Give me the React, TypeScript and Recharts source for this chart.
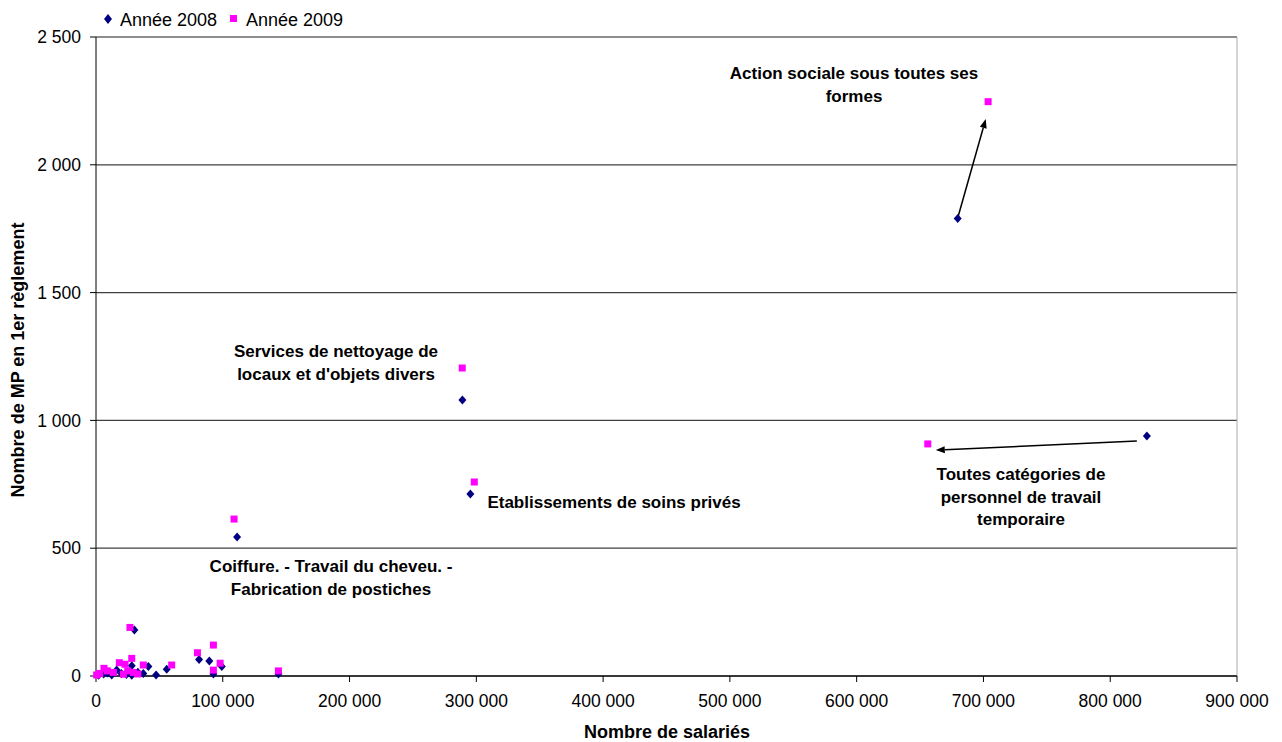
import { ScatterChart, Scatter, XAxis, YAxis, CartesianGrid, ReferenceLine } from "recharts";

// Nombre de salariés / Nombre de MP, par secteur
const salaries2008 = [679700, 289000, 295300, 111300, 828900, 30300, 28200, 41300, 37300, 47400, 55800, 28200, 16300, 12400, 81300, 89400, 99200, 92600, 143900, 2000, 6000, 9000, 20000, 24000, 33000];
const mp2008 = [1790, 1080, 712, 544, 939, 180, 40, 37, 10, 4, 26, 3, 23, 4, 65, 59, 37, 8, 8, 3, 8, 12, 10, 6, 15];

const salaries2009 = [703700, 288900, 298400, 108900, 656100, 26800, 500, 6300, 18400, 22900, 28200, 37300, 59700, 13700, 29500, 21600, 80000, 92600, 97900, 92600, 143900, 3000, 9000, 33000, 25000];
const mp2009 = [2247, 1205, 759, 614, 908, 190, 4, 30, 52, 46, 69, 43, 43, 14, 14, 7, 91, 121, 50, 23, 20, 10, 20, 8, 20];

const xTicks = [0, 100000, 200000, 300000, 400000, 500000, 600000, 700000, 800000, 900000];
const yTicks = [0, 500, 1000, 1500, 2000, 2500];

// arrows: [x1, y1, x2, y2] in data units
const arrows = [
  [679700, 1792, 701800, 2179],
  [821000, 919, 662400, 884],
];

const data2008 = salaries2008.map((x, i) => ({ x, y: mp2008[i] }));
const data2009 = salaries2009.map((x, i) => ({ x, y: mp2009[i] }));

const fmt = (v: number) => String(v).replace(/\B(?=(\d{3})+(?!\d))/g, " ");

const Diamond = (p: any) => (
  <path d={`M${p.cx},${p.cy - 4.5}L${p.cx + 4},${p.cy}L${p.cx},${p.cy + 4.5}L${p.cx - 4},${p.cy}Z`} fill="#000080" />
);
const Square = (p: any) => <rect x={p.cx - 3.5} y={p.cy - 3.5} width={7} height={7} fill="#FF00FF" />;

const Arrow = (p: any) => {
  const { x1, y1, x2, y2 } = p;
  const a = Math.atan2(y2 - y1, x2 - x1);
  const L = 9, W = 3.5;
  const bx = x2 - L * Math.cos(a), by = y2 - L * Math.sin(a);
  const px = -Math.sin(a) * W, py = Math.cos(a) * W;
  return (
    <g>
      <line x1={x1} y1={y1} x2={bx} y2={by} stroke="#000" strokeWidth={1.5} />
      <polygon points={`${x2},${y2} ${bx + px},${by + py} ${bx - px},${by - py}`} fill="#000" />
    </g>
  );
};

const font = "'Liberation Sans', Arial, sans-serif";

const labels = [
  { x: 854, y: 79, lines: ["Action sociale sous toutes ses", "formes"] },
  { x: 336, y: 357, lines: ["Services de nettoyage de", "locaux et d'objets divers"] },
  { x: 614, y: 508, lines: ["Etablissements de soins privés"] },
  { x: 331, y: 572, lines: ["Coiffure. - Travail du cheveu. -", "Fabrication de postiches"] },
  { x: 1021, y: 480, lines: ["Toutes catégories de", "personnel de travail", "temporaire"] },
];

export default function App() {
  return (
    <div style={{ position: "absolute", left: 0, top: 0, width: 1282, height: 742, background: "#fff" }}>
      <ScatterChart width={1282} height={742} margin={{ top: 37, right: 45, bottom: 36, left: 0 }}>
        <CartesianGrid vertical={false} stroke="#404040" strokeWidth={1.3} />
        <ReferenceLine x={900000} stroke="#aaa" strokeWidth={1} />
        <ReferenceLine y={2500} stroke="#999" strokeWidth={1.3} />
        <XAxis
          type="number"
          dataKey="x"
          domain={[0, 900000]}
          ticks={xTicks}
          tickFormatter={fmt}
          stroke="#000"
          tickSize={6}
          tickMargin={13}
          height={30}
          interval={0}
          tick={{ fill: "#000", fontSize: 17.5, fontFamily: font }}
        />
        <YAxis
          type="number"
          dataKey="y"
          domain={[0, 2500]}
          ticks={yTicks}
          tickFormatter={fmt}
          width={96}
          stroke="#000"
          tickSize={6}
          tickMargin={9}
          interval={0}
          tick={{ fill: "#000", fontSize: 17.5, fontFamily: font }}
        />
        <Scatter name="Année 2008" data={data2008} shape={Diamond} isAnimationActive={false} />
        <Scatter name="Année 2009" data={data2009} shape={Square} isAnimationActive={false} />
        {arrows.map((a, i) => (
          <ReferenceLine key={i} segment={[{ x: a[0], y: a[1] }, { x: a[2], y: a[3] }]} shape={Arrow} ifOverflow="visible" />
        ))}
      </ScatterChart>
      <svg width={1282} height={742} style={{ position: "absolute", left: 0, top: 0, pointerEvents: "none" }}>
        {/* legend */}
        <path d="M108,14L112,19L108,24L104,19Z" fill="#000080" />
        <text x={120} y={25.5} fontFamily={font} fontSize={18} fill="#000">Année 2008</text>
        <rect x={230} y={15} width={7} height={7} fill="#FF00FF" />
        <text x={246} y={25.5} fontFamily={font} fontSize={18} fill="#000">Année 2009</text>
        {/* axis titles */}
        <text x={667} y={738} textAnchor="middle" fontFamily={font} fontSize={18} fontWeight="bold" fill="#000">Nombre de salariés</text>
        <text x={24} y={360} transform="rotate(-90 24 360)" textAnchor="middle" fontFamily={font} fontSize={18} fontWeight="bold" fill="#000">Nombre de MP en 1er règlement</text>
        {labels.map((l, i) => (
          <text key={i} x={l.x} y={l.y} textAnchor="middle" fontFamily={font} fontSize={17} fontWeight="bold" fill="#000">
            {l.lines.map((s, j) => (
              <tspan key={j} x={l.x} dy={j === 0 ? 0 : 22.5}>{s}</tspan>
            ))}
          </text>
        ))}
      </svg>
    </div>
  );
}
